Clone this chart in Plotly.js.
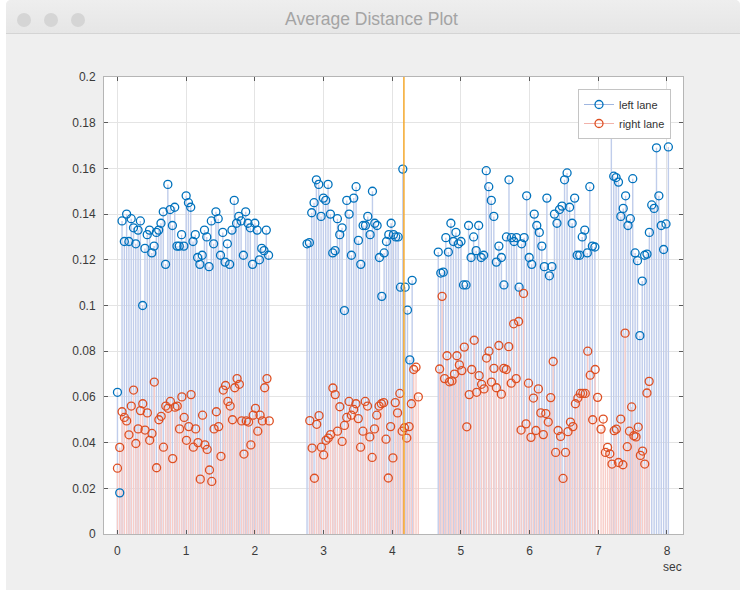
<!DOCTYPE html>
<html>
<head>
<meta charset="utf-8">
<script src="https://cdn.plot.ly/plotly-3.0.1.min.js"></script>
<style>
  html,body{margin:0;padding:0;background:#ffffff;width:743px;height:592px;overflow:hidden;}
  #win{position:absolute;left:6px;top:0;width:734px;height:590px;background:#efefef;border-radius:5px 5px 0 0;}
  #bar{position:absolute;left:6px;top:0;width:734px;height:33px;background:linear-gradient(#eeeeee,#e6e6e6);border-bottom:1px solid #d4d4d4;border-radius:5px 5px 0 0;}
  .dot{position:absolute;top:13px;width:14px;height:14px;border-radius:50%;background:#d5d5d5;}
  #ttl{position:absolute;left:0;top:9px;width:743px;text-align:center;font-family:"Liberation Sans",Arial,sans-serif;font-size:17.5px;color:#a4a4a4;}
  #chart{position:absolute;left:0;top:0;width:743px;height:592px;}
</style>
</head>
<body>
<div id="win"></div>
<div id="bar"></div>
<div class="dot" style="left:17px"></div>
<div class="dot" style="left:44px"></div>
<div class="dot" style="left:71px"></div>
<div id="ttl">Average Distance Plot</div>
<div id="chart"></div>
<script>
// ---- data ----
const seriesNames = ["left lane", "right lane"];
const axisLabelX = "sec";
const yTicks = [0, 0.02, 0.04, 0.06, 0.08, 0.1, 0.12, 0.14, 0.16, 0.18, 0.2];
const xTicks = [0, 1, 2, 3, 4, 5, 6, 7, 8];
const eventTime = [4.17];

// segment sampling windows (seconds)
const leftStarts = [0, 2.76, 4.67, 7.19];
const leftEnds   = [2.2, 4.29, 6.95, 8.02];
const rightStarts = [0, 2.80, 4.69, 7.04];
const rightEnds   = [2.21, 4.38, 6.99, 7.74];

const leftSeg1 = [0.062,0.018,0.137,0.128,0.140,0.128,0.138,0.134,0.127,0.133,0.137,0.100,0.125,0.131,0.133,0.123,0.126,0.132,0.133,0.136,0.141,0.118,0.153,0.142,0.135,0.143,0.126,0.126,0.131,0.126,0.148,0.145,0.143,0.128,0.131,0.121,0.118,0.122,0.133,0.130,0.117,0.137,0.127,0.141,0.138,0.122,0.132,0.119,0.127,0.118,0.133,0.146,0.136,0.139,0.137,0.122,0.141,0.136,0.134,0.118,0.136,0.133,0.120,0.125,0.124,0.133,0.122];
const leftSeg2 = [0.127,0.1275,0.1406,0.145,0.155,0.153,0.139,0.147,0.146,0.153,0.140,0.123,0.124,0.138,0.131,0.134,0.0978,0.146,0.140,0.122,0.147,0.152,0.1285,0.118,0.135,0.135,0.139,0.131,0.150,0.136,0.135,0.121,0.104,0.123,0.128,0.131,0.136,0.131,0.130,0.130,0.108,0.1597,0.108,0.098,0.0762,0.111];
const leftSeg3 = [0.1234,0.1142,0.1146,0.1297,0.1234,0.136,0.128,0.132,0.127,0.128,0.109,0.109,0.135,0.121,0.130,0.124,0.135,0.121,0.122,0.159,0.152,0.146,0.139,0.119,0.126,0.121,0.109,0.130,0.155,0.1297,0.128,0.1297,0.108,0.127,0.1297,0.148,0.121,0.118,0.140,0.135,0.132,0.126,0.117,0.147,0.113,0.117,0.140,0.136,0.142,0.1435,0.155,0.158,0.143,0.136,0.147,0.122,0.122,0.130,0.133,0.123,0.152,0.126,0.1256];
const leftSeg4 = [0.1785,0.1566,0.156,0.154,0.139,0.1425,0.148,0.135,0.138,0.1555,0.123,0.1196,0.0868,0.1107,0.122,0.1225,0.132,0.144,0.1425,0.169,0.148,0.135,0.1245,0.1357,0.1694];

const rightSeg1 = [0.0288,0.0379,0.0535,0.051,0.0495,0.0434,0.056,0.063,0.0396,0.046,0.054,0.057,0.0455,0.053,0.041,0.044,0.0665,0.029,0.050,0.0515,0.038,0.056,0.055,0.058,0.033,0.0555,0.056,0.046,0.060,0.051,0.041,0.047,0.061,0.038,0.046,0.040,0.024,0.052,0.039,0.037,0.028,0.023,0.046,0.0535,0.047,0.034,0.063,0.065,0.058,0.056,0.050,0.064,0.068,0.0655,0.0495,0.035,0.0495,0.049,0.039,0.052,0.055,0.045,0.052,0.0495,0.064,0.068,0.0495];
const rightSeg2 = [0.0496,0.0376,0.0244,0.048,0.0518,0.038,0.0346,0.041,0.042,0.0435,0.0639,0.061,0.045,0.0557,0.0405,0.0475,0.051,0.058,0.052,0.0545,0.057,0.0505,0.038,0.045,0.058,0.056,0.0425,0.0335,0.046,0.052,0.056,0.057,0.0575,0.0415,0.0245,0.047,0.0333,0.0575,0.053,0.0615,0.045,0.0465,0.042,0.047,0.057,0.072,0.073,0.060];
const rightSeg3 = [0.0722,0.104,0.068,0.078,0.0666,0.067,0.070,0.078,0.074,0.0715,0.0818,0.0469,0.061,0.072,0.0848,0.062,0.0693,0.0655,0.0635,0.077,0.080,0.0665,0.0725,0.064,0.0825,0.0612,0.0725,0.072,0.082,0.066,0.092,0.068,0.093,0.0455,0.1053,0.0482,0.066,0.0423,0.0595,0.0453,0.0635,0.053,0.0435,0.0527,0.049,0.0597,0.0755,0.0357,0.0453,0.0427,0.0243,0.0357,0.0448,0.049,0.047,0.057,0.0595,0.0615,0.0615,0.0615,0.080,0.0695,0.050,0.072,0.0598];
const rightSeg4 = [0.0459,0.0503,0.0357,0.0379,0.0351,0.0306,0.0452,0.0459,0.0313,0.0503,0.0303,0.0879,0.0382,0.045,0.0556,0.043,0.0425,0.0468,0.0344,0.0363,0.0306,0.0617,0.0668];

// ---- build series ----
function sampleTimes(start, end, n) {
  const out = [];
  for (let i = 0; i < n; i++) out.push(n > 1 ? start + (end - start) * i / (n - 1) : start);
  return out;
}
function buildSeries(starts, ends, segs) {
  const t = [], v = [];
  segs.forEach((s, k) => {
    const ts = sampleTimes(starts[k], ends[k], s.length);
    ts.forEach((x, i) => { t.push(x); v.push(s[i]); });
  });
  return {t, v};
}
function stems(t, v) {
  const xs = [], ys = [];
  for (let i = 0; i < t.length; i++) { xs.push(t[i], t[i], null); ys.push(0, v[i], null); }
  return {xs, ys};
}
const left = buildSeries(leftStarts, leftEnds, [leftSeg1, leftSeg2, leftSeg3, leftSeg4]);
const right = buildSeries(rightStarts, rightEnds, [rightSeg1, rightSeg2, rightSeg3, rightSeg4]);
const ls = stems(left.t, left.v), rs = stems(right.t, right.v);

const blue = "#0072bd", red = "#de4f22";
const traces = [
  {x: ls.xs, y: ls.ys, mode: "lines", line: {color: "#c0cdeb", width: 1.4}, hoverinfo: "skip", showlegend: false},
  {x: rs.xs, y: rs.ys, mode: "lines", line: {color: "#f8cdc8", width: 1.4}, hoverinfo: "skip", showlegend: false},
  {x: left.t, y: left.v, mode: "markers", marker: {symbol: "circle-open", size: 8, color: blue, line: {width: 1.3, color: blue}}, showlegend: false},
  {x: right.t, y: right.v, mode: "markers", marker: {symbol: "circle-open", size: 8, color: red, line: {width: 1.3, color: red}}, showlegend: false},
  {x: [null], y: [null], name: seriesNames[0], mode: "lines+markers", line: {color: "#9fb6e0", width: 1}, marker: {symbol: "circle-open", size: 8, color: blue, line: {width: 1.3, color: blue}}},
  {x: [null], y: [null], name: seriesNames[1], mode: "lines+markers", line: {color: "#f2b2aa", width: 1}, marker: {symbol: "circle-open", size: 8, color: red, line: {width: 1.3, color: red}}}
];

const font = {family: "Liberation Sans, Arial, sans-serif", size: 12, color: "#3a3a3a"};
const layout = {
  width: 743, height: 592,
  margin: {l: 104, r: 60, t: 77, b: 58, pad: 0},
  paper_bgcolor: "rgba(0,0,0,0)", plot_bgcolor: "#ffffff",
  font: font,
  xaxis: {range: [-0.196, 8.233], tickvals: xTicks, ticktext: xTicks.map(String), showgrid: true, gridcolor: "#e4e4e4", gridwidth: 1,
          zeroline: false, showline: true, linecolor: "#b5b5b5", linewidth: 1, mirror: "ticks",
          ticks: "inside", ticklen: 4, tickcolor: "#5a5a5a", ticklabelstandoff: 6, tickfont: font},
  yaxis: {range: [0, 0.2], tickvals: yTicks, ticktext: yTicks.map(String), showgrid: true, gridcolor: "#e4e4e4", gridwidth: 1,
          zeroline: false, showline: true, linecolor: "#b5b5b5", linewidth: 1, mirror: "ticks",
          ticks: "inside", ticklen: 4, tickcolor: "#5a5a5a", ticklabelstandoff: 5, tickfont: font},
  shapes: eventTime.map(t => ({type: "line", xref: "x", yref: "paper", x0: t, x1: t, y0: 0, y1: 1, line: {color: "#f4a82c", width: 1.5}})),
  annotations: [{text: axisLabelX, xref: "paper", yref: "paper", x: (672 - 104) / 579, y: (534 - 567) / 457, xanchor: "center", yanchor: "middle", showarrow: false, font: font}],
  legend: {x: (671 - 104) / 579, xanchor: "right", y: (534 - 89) / 457, yanchor: "top", bgcolor: "#ffffff", bordercolor: "#c4c4c4", borderwidth: 1,
           font: {family: "Liberation Sans, Arial, sans-serif", size: 11, color: "#333333"}, itemwidth: 30, tracegroupgap: 0},
  showlegend: true
};
Plotly.newPlot("chart", traces, layout, {displayModeBar: false, staticPlot: true});
</script>
</body>
</html>
